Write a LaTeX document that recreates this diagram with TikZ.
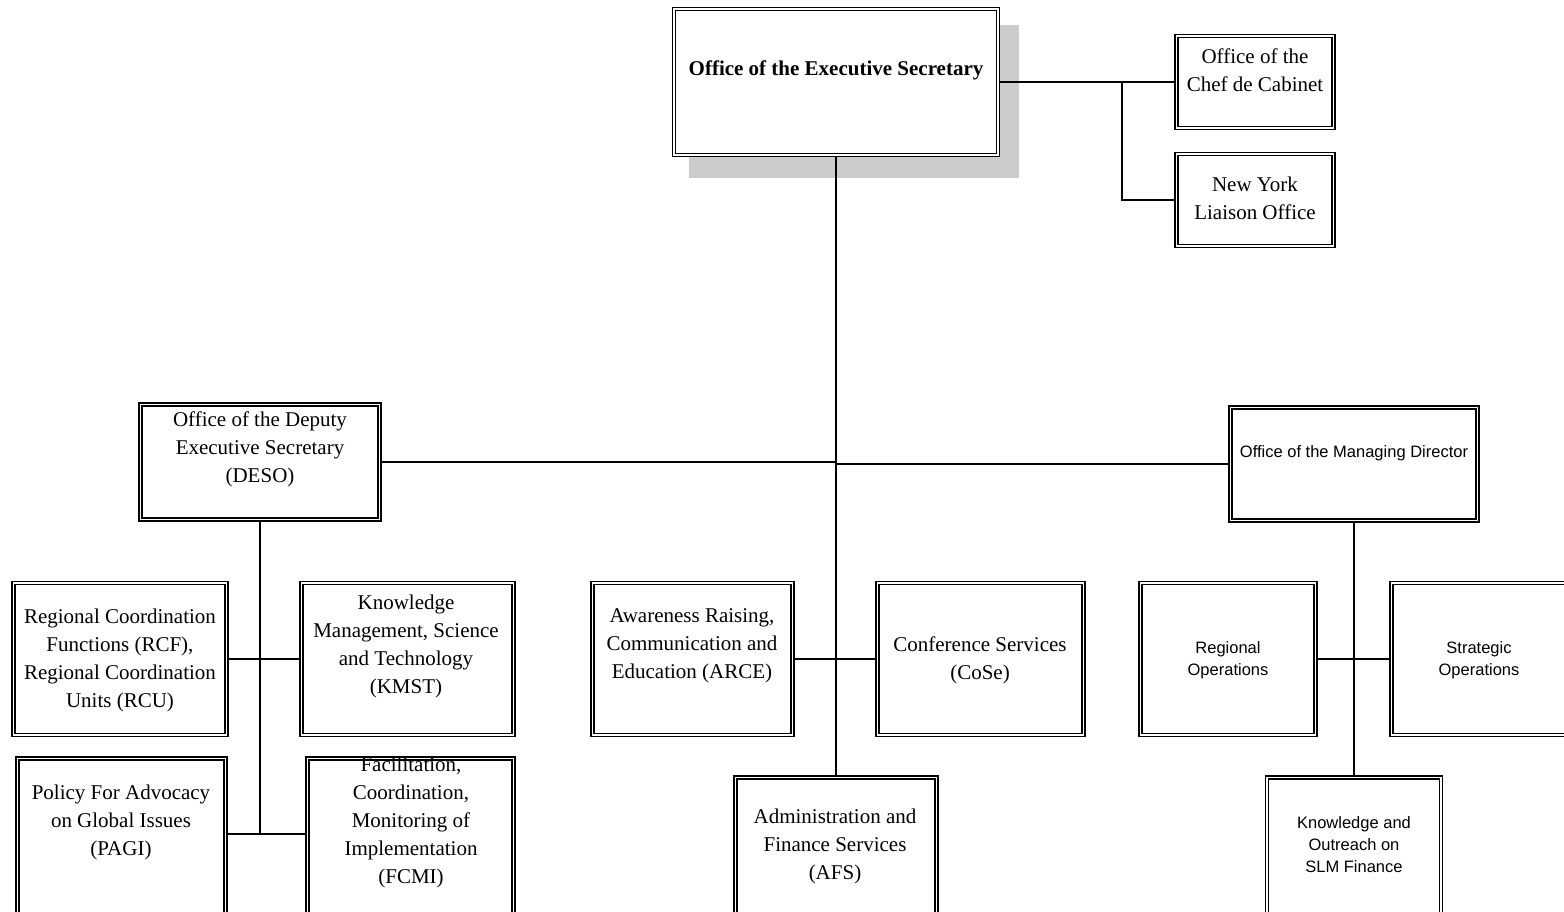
\documentclass[tikz,border=0pt]{standalone}
\usepackage{fontspec}
\setmainfont{Liberation Serif}
\newfontfamily\arialfont{Liberation Sans}
\begin{document}
\begin{tikzpicture}[x=1pt,y=-1pt,
  box/.style={draw=black, line width=1.3pt, double=white, double distance=1.8pt, fill=white, inner sep=0pt},
  serif/.style={align=center, inner sep=0pt, font=\fontsize{21}{28}\selectfont},
  sans/.style={align=center, inner sep=0pt, font=\arialfont\fontsize{16.5}{22}\selectfont},
  conn/.style={draw=black, line width=2pt}]
\useasboundingbox[fill=white] (0,0) rectangle (1564,912);
% shadow
\fill[black!20] (689,25) rectangle (1019,178);
% boxes
\node[box, minimum width=324pt, minimum height=146pt] (es) at (836,82) {};
\node[box, minimum width=157pt, minimum height=92pt] (chef) at (1255,82) {};
\node[box, minimum width=157pt, minimum height=92pt] (ny) at (1255,200) {};
\node[box, minimum width=239pt, minimum height=115pt] (deso) at (260,462) {};
\node[box, minimum width=247pt, minimum height=113pt] (md) at (1354,464) {};
\node[box, minimum width=213pt, minimum height=152pt] (rcf) at (120,659) {};
\node[box, minimum width=212pt, minimum height=152pt] (kmst) at (407.5,659) {};
\node[box, minimum width=208pt, minimum height=157pt] (pagi) at (121.5,837) {};
\node[box, minimum width=206pt, minimum height=157pt] (fcmi) at (410.5,837) {};
\node[box, minimum width=200pt, minimum height=152pt] (arce) at (692.5,659) {};
\node[box, minimum width=206pt, minimum height=152pt] (cose) at (980.5,659) {};
\node[box, minimum width=201pt, minimum height=138pt] (afs) at (836,846.5) {};
\node[box, minimum width=175pt, minimum height=152pt] (reg) at (1228,659) {};
\node[box, minimum width=175pt, minimum height=152pt] (strat) at (1479,659) {};
\node[box, minimum width=174pt, minimum height=138pt] (kos) at (1354,846.5) {};
% texts
\node[serif, font=\bfseries\fontsize{21}{28}\selectfont] (es-t) at (836,70) {Office of the Executive Secretary};
\node[serif] (chef-t) at (1255,70) {Office of the\\Chef de Cabinet};
\node[serif] (ny-t) at (1255,198) {New York\\Liaison Office};
\node[serif] (deso-t) at (260,449) {Office of the Deputy\\Executive Secretary\\(DESO)};
\node[sans] (md-t) at (1354,453) {Office of the Managing Director};
\node[serif] (rcf-t) at (120,660) {Regional Coordination\\Functions (RCF),\\Regional Coordination\\Units (RCU)};
\node[serif] (kmst-t) at (406,646.5) {Knowledge\\Management, Science\\and Technology\\(KMST)};
\node[serif] (pagi-t) at (121,822) {Policy For Advocacy\\on Global Issues\\(PAGI)};
\node[serif] (fcmi-t) at (411,822) {Facilitation,\\Coordination,\\Monitoring of\\Implementation\\(FCMI)};
\node[serif] (arce-t) at (692,646) {Awareness Raising,\\Communication and\\Education (ARCE)};
\node[serif] (cose-t) at (980,660) {Conference Services\\(CoSe)};
\node[serif] (afs-t) at (835,846) {Administration and\\Finance Services\\(AFS)};
\node[sans] (reg-t) at (1228,660) {Regional\\Operations};
\node[sans] (strat-t) at (1479,660) {Strategic\\Operations};
\node[sans] (kos-t) at (1354,845) {Knowledge and\\Outreach on\\SLM Finance};
% connectors
\coordinate (jn) at (1122,82);
\coordinate (dl) at (260,834);
\draw[conn] (es.south) -- (es.south |- afs.north);
\draw[conn] (es.east) -- (chef.west);
\draw[conn] (jn) |- (ny.west);
\draw[conn] (deso.east) -- (deso.east -| es.south);
\draw[conn] (md.west) -- (md.west -| es.south);
\draw[conn] (deso.south) -- (dl);
\draw[conn] (rcf.east) -- (kmst.west);
\draw[conn] (pagi.east |- dl) -- (fcmi.west |- dl);
\draw[conn] (arce.east) -- (cose.west);
\draw[conn] (md.south) -- (md.south |- kos.north);
\draw[conn] (reg.east) -- (strat.west);
\end{tikzpicture}
\end{document}
